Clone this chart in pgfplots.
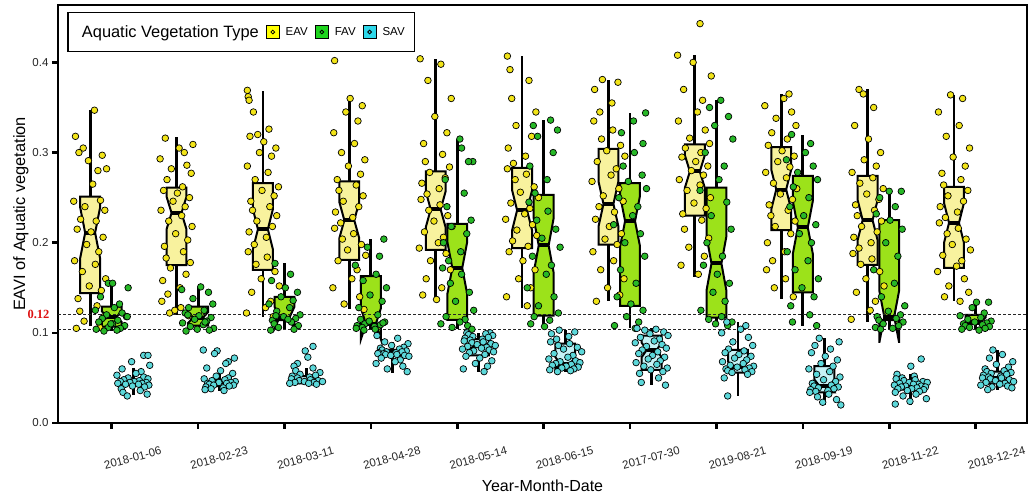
\documentclass[border=0pt]{standalone}
\usepackage{fontspec}
\setmainfont{Liberation Sans}
\newfontfamily\serifbf{Liberation Serif}
\usepackage{pgfplots}
\usepackage{pgfplotstable}
\pgfplotsset{compat=1.18}

\definecolor{eavbox}{HTML}{F8F29E}
\definecolor{favbox}{HTML}{9CE21A}
\definecolor{savbox}{HTML}{C6F2F6}
\definecolor{eavpt}{HTML}{F2E418}
\definecolor{favpt}{HTML}{27B827}
\definecolor{savpt}{HTML}{5CD8DA}
\definecolor{eavkey}{HTML}{FFFF00}
\definecolor{favkey}{HTML}{1ED41E}
\definecolor{savkey}{HTML}{2ED8EA}
\definecolor{redlab}{HTML}{DD1111}

% notched box: center, q1, median, q3, notch half-height, lower whisker, upper whisker, fill
\newcommand{\nbox}[8]{%
 \pgfmathsetmacro\xl{#1-0.115}\pgfmathsetmacro\xr{#1+0.115}%
 \pgfmathsetmacro\xml{#1-0.0575}\pgfmathsetmacro\xmr{#1+0.0575}%
 \pgfmathsetmacro\nlo{#3-#5}\pgfmathsetmacro\nhi{#3+#5}%
 \addplot[black, line width=2.8pt, forget plot] coordinates {(#1,#4) (#1,#7)};
 \addplot[black, line width=2.8pt, forget plot] coordinates {(#1,#2) (#1,#6)};
 \addplot[draw=black, fill=#8, line width=2pt, line join=miter, forget plot] coordinates {(\xl,#2) (\xl,\nlo) (\xml,#3) (\xl,\nhi) (\xl,#4) (\xr,#4) (\xr,\nhi) (\xmr,#3) (\xr,\nlo) (\xr,#2)} -- cycle;
 \addplot[black, line width=4pt, forget plot] coordinates {(\xml,#3) (\xmr,#3)};
}

\pgfplotstableread[row sep=\\]{
t d y\\
1 -0.17 0.318\\ 1 0.05 0.347\\ 1 -0.08 0.305\\ 1 0.14 0.297\\ 1 -0.02 0.291\\ 1 0.19 0.282\\ 1 -0.13 0.300\\ 1 0.09 0.280\\ 1 0.03 0.265\\ 1 -0.19 0.246\\ 1 0.12 0.247\\ 1 -0.06 0.240\\ 1 0.17 0.236\\ 1 -0.11 0.226\\ 1 0.07 0.224\\ 1 -0.15 0.215\\ 1 0.01 0.212\\ 1 0.15 0.206\\ 1 -0.04 0.198\\ 1 0.10 0.190\\ 1 -0.18 0.180\\ 1 0.06 0.176\\ 1 -0.09 0.168\\ 1 0.18 0.160\\ 1 -0.01 0.152\\ 1 0.13 0.147\\ 1 -0.14 0.138\\ 1 0.08 0.130\\ 1 -0.12 0.124\\ 1 0.16 0.118\\ 1 -0.07 0.113\\ 1 0.11 0.106\\ 1 -0.16 0.105\\
2 0.19 0.309\\ 2 -0.13 0.316\\ 2 0.09 0.300\\ 2 0.03 0.305\\ 2 -0.19 0.293\\ 2 0.12 0.286\\ 2 -0.06 0.282\\ 2 0.17 0.277\\ 2 -0.11 0.270\\ 2 0.07 0.262\\ 2 -0.15 0.258\\ 2 0.01 0.255\\ 2 0.15 0.250\\ 2 -0.04 0.246\\ 2 0.10 0.240\\ 2 -0.18 0.236\\ 2 0.06 0.230\\ 2 -0.09 0.224\\ 2 0.18 0.218\\ 2 -0.01 0.210\\ 2 0.13 0.203\\ 2 -0.14 0.196\\ 2 0.08 0.190\\ 2 -0.12 0.183\\ 2 0.16 0.178\\ 2 -0.07 0.172\\ 2 0.11 0.165\\ 2 -0.16 0.158\\ 2 0.04 0.150\\ 2 -0.10 0.143\\ 2 -0.17 0.135\\ 2 0.05 0.128\\ 2 -0.08 0.122\\ 2 0.14 0.119\\ 2 -0.02 0.125\\
3 -0.18 0.369\\ 3 -0.17 0.362\\ 3 -0.16 0.358\\ 3 -0.11 0.345\\ 3 0.07 0.326\\ 3 -0.15 0.318\\ 3 0.01 0.312\\ 3 0.15 0.305\\ 3 -0.04 0.300\\ 3 0.10 0.296\\ 3 -0.18 0.285\\ 3 0.06 0.278\\ 3 -0.09 0.270\\ 3 0.18 0.262\\ 3 -0.01 0.258\\ 3 0.13 0.252\\ 3 -0.14 0.246\\ 3 0.08 0.240\\ 3 -0.12 0.236\\ 3 0.16 0.230\\ 3 -0.07 0.224\\ 3 0.11 0.218\\ 3 -0.16 0.212\\ 3 0.04 0.206\\ 3 -0.10 0.198\\ 3 -0.17 0.190\\ 3 0.05 0.184\\ 3 -0.08 0.176\\ 3 0.14 0.168\\ 3 -0.02 0.160\\ 3 0.19 0.152\\ 3 -0.13 0.145\\ 3 0.09 0.135\\ 3 0.03 0.128\\ 3 -0.19 0.122\\ 3 0.12 0.118\\ 3 -0.06 0.320\\
4 -0.17 0.402\\ 4 0.01 0.360\\ 4 0.15 0.352\\ 4 -0.04 0.345\\ 4 0.10 0.335\\ 4 -0.18 0.322\\ 4 0.06 0.310\\ 4 -0.09 0.300\\ 4 0.18 0.292\\ 4 -0.01 0.285\\ 4 0.13 0.276\\ 4 -0.14 0.270\\ 4 0.08 0.264\\ 4 -0.12 0.258\\ 4 0.16 0.252\\ 4 -0.07 0.246\\ 4 0.11 0.240\\ 4 -0.16 0.234\\ 4 0.04 0.228\\ 4 -0.10 0.222\\ 4 -0.17 0.216\\ 4 0.05 0.210\\ 4 -0.08 0.204\\ 4 0.14 0.198\\ 4 -0.02 0.192\\ 4 0.19 0.186\\ 4 -0.13 0.180\\ 4 0.09 0.170\\ 4 0.03 0.160\\ 4 -0.19 0.150\\ 4 0.12 0.140\\ 4 -0.06 0.132\\ 4 0.17 0.126\\
5 -0.18 0.404\\ 5 0.06 0.398\\ 5 -0.09 0.380\\ 5 0.18 0.360\\ 5 -0.01 0.340\\ 5 0.13 0.322\\ 5 -0.14 0.310\\ 5 0.08 0.298\\ 5 -0.12 0.290\\ 5 0.16 0.284\\ 5 -0.07 0.278\\ 5 0.11 0.272\\ 5 -0.16 0.266\\ 5 0.04 0.260\\ 5 -0.10 0.254\\ 5 -0.17 0.248\\ 5 0.05 0.242\\ 5 -0.08 0.236\\ 5 0.14 0.230\\ 5 -0.02 0.224\\ 5 0.19 0.218\\ 5 -0.13 0.212\\ 5 0.09 0.206\\ 5 0.03 0.200\\ 5 -0.19 0.194\\ 5 0.12 0.188\\ 5 -0.06 0.180\\ 5 0.17 0.170\\ 5 -0.11 0.160\\ 5 0.07 0.150\\ 5 -0.15 0.142\\ 5 0.01 0.137\\
6 -0.17 0.407\\ 6 -0.14 0.392\\ 6 0.08 0.380\\ 6 -0.12 0.360\\ 6 0.16 0.345\\ 6 -0.07 0.330\\ 6 0.11 0.318\\ 6 -0.16 0.305\\ 6 0.04 0.296\\ 6 -0.10 0.288\\ 6 -0.17 0.282\\ 6 0.05 0.276\\ 6 -0.08 0.270\\ 6 0.14 0.262\\ 6 -0.02 0.256\\ 6 0.19 0.250\\ 6 -0.13 0.244\\ 6 0.09 0.238\\ 6 0.03 0.232\\ 6 -0.19 0.226\\ 6 0.12 0.220\\ 6 -0.06 0.214\\ 6 0.17 0.208\\ 6 -0.11 0.202\\ 6 0.07 0.196\\ 6 -0.15 0.190\\ 6 0.01 0.180\\ 6 0.15 0.170\\ 6 -0.04 0.160\\ 6 0.10 0.150\\ 6 -0.18 0.140\\ 6 0.06 0.130\\
7 -0.07 0.381\\ 7 0.11 0.378\\ 7 -0.16 0.370\\ 7 0.04 0.355\\ 7 -0.10 0.345\\ 7 -0.17 0.335\\ 7 0.05 0.325\\ 7 -0.08 0.315\\ 7 0.14 0.308\\ 7 -0.02 0.302\\ 7 0.19 0.296\\ 7 -0.13 0.290\\ 7 0.09 0.282\\ 7 0.03 0.275\\ 7 -0.19 0.268\\ 7 0.12 0.260\\ 7 -0.06 0.252\\ 7 0.17 0.246\\ 7 -0.11 0.240\\ 7 0.07 0.234\\ 7 -0.15 0.226\\ 7 0.01 0.218\\ 7 0.15 0.210\\ 7 -0.04 0.204\\ 7 0.10 0.198\\ 7 -0.18 0.190\\ 7 0.06 0.180\\ 7 -0.09 0.170\\ 7 0.18 0.160\\ 7 -0.01 0.150\\ 7 0.13 0.142\\ 7 -0.14 0.135\\
8 0.06 0.443\\ 8 -0.20 0.408\\ 8 -0.02 0.400\\ 8 0.19 0.385\\ 8 -0.13 0.370\\ 8 0.09 0.358\\ 8 0.03 0.345\\ 8 -0.19 0.335\\ 8 0.12 0.325\\ 8 -0.06 0.316\\ 8 0.17 0.310\\ 8 -0.11 0.305\\ 8 0.07 0.300\\ 8 -0.15 0.295\\ 8 0.01 0.290\\ 8 0.15 0.285\\ 8 -0.04 0.280\\ 8 0.10 0.275\\ 8 -0.18 0.270\\ 8 0.06 0.264\\ 8 -0.09 0.258\\ 8 0.18 0.250\\ 8 -0.01 0.244\\ 8 0.13 0.238\\ 8 -0.14 0.232\\ 8 0.08 0.225\\ 8 -0.12 0.215\\ 8 0.16 0.205\\ 8 -0.07 0.195\\ 8 0.11 0.185\\ 8 -0.16 0.175\\ 8 0.04 0.165\\
9 0.09 0.365\\ 9 0.03 0.360\\ 9 -0.19 0.352\\ 9 0.12 0.345\\ 9 -0.06 0.338\\ 9 0.17 0.330\\ 9 -0.11 0.322\\ 9 0.07 0.315\\ 9 -0.15 0.308\\ 9 0.01 0.302\\ 9 0.15 0.296\\ 9 -0.04 0.290\\ 9 0.10 0.284\\ 9 -0.18 0.278\\ 9 0.06 0.272\\ 9 -0.09 0.266\\ 9 0.18 0.260\\ 9 -0.01 0.254\\ 9 0.13 0.248\\ 9 -0.14 0.242\\ 9 0.08 0.236\\ 9 -0.12 0.230\\ 9 0.16 0.224\\ 9 -0.07 0.218\\ 9 0.11 0.210\\ 9 -0.16 0.200\\ 9 0.04 0.190\\ 9 -0.10 0.180\\ 9 -0.17 0.170\\ 9 0.05 0.160\\ 9 -0.08 0.150\\ 9 0.14 0.140\\
10 -0.10 0.370\\ 10 -0.05 0.365\\ 10 0.07 0.350\\ 10 -0.15 0.330\\ 10 0.01 0.315\\ 10 0.15 0.300\\ 10 -0.04 0.292\\ 10 0.10 0.285\\ 10 -0.18 0.278\\ 10 0.06 0.272\\ 10 -0.09 0.266\\ 10 0.18 0.260\\ 10 -0.01 0.254\\ 10 0.13 0.248\\ 10 -0.14 0.242\\ 10 0.08 0.236\\ 10 -0.12 0.230\\ 10 0.16 0.224\\ 10 -0.07 0.218\\ 10 0.11 0.212\\ 10 -0.16 0.206\\ 10 0.04 0.200\\ 10 -0.10 0.194\\ 10 -0.17 0.188\\ 10 0.05 0.182\\ 10 -0.08 0.176\\ 10 0.14 0.168\\ 10 -0.02 0.160\\ 10 0.19 0.152\\ 10 -0.13 0.145\\ 10 0.09 0.135\\ 10 0.03 0.125\\ 10 -0.19 0.115\\
11 -0.04 0.364\\ 11 0.10 0.360\\ 11 -0.18 0.345\\ 11 0.06 0.330\\ 11 -0.09 0.318\\ 11 0.18 0.305\\ 11 -0.01 0.295\\ 11 0.13 0.285\\ 11 -0.14 0.277\\ 11 0.08 0.270\\ 11 -0.12 0.264\\ 11 0.16 0.258\\ 11 -0.07 0.252\\ 11 0.11 0.246\\ 11 -0.16 0.240\\ 11 0.04 0.234\\ 11 -0.10 0.228\\ 11 -0.17 0.222\\ 11 0.05 0.216\\ 11 -0.08 0.210\\ 11 0.14 0.204\\ 11 -0.02 0.198\\ 11 0.19 0.192\\ 11 -0.13 0.186\\ 11 0.09 0.180\\ 11 0.03 0.174\\ 11 -0.19 0.168\\ 11 0.12 0.160\\ 11 -0.06 0.152\\ 11 0.17 0.145\\ 11 -0.11 0.140\\ 11 0.07 0.135\\
}\eavtab

\pgfplotstableread[row sep=\\]{
t d y\\
1 -0.04 0.155\\ 1 0.01 0.155\\ 1 0.19 0.150\\ 1 -0.13 0.140\\ 1 0.09 0.132\\ 1 0.03 0.128\\ 1 -0.19 0.125\\ 1 0.12 0.122\\ 1 -0.06 0.120\\ 1 0.17 0.118\\ 1 -0.11 0.116\\ 1 0.07 0.114\\ 1 -0.15 0.112\\ 1 0.01 0.110\\ 1 0.15 0.108\\ 1 -0.04 0.106\\ 1 0.10 0.105\\ 1 -0.18 0.104\\ 1 0.06 0.103\\ 1 -0.09 0.102\\ 1 0.18 0.118\\ 1 -0.01 0.110\\
2 0.03 0.151\\ 2 -0.19 0.148\\ 2 0.12 0.145\\ 2 -0.06 0.138\\ 2 0.17 0.132\\ 2 -0.11 0.128\\ 2 0.07 0.125\\ 2 -0.15 0.122\\ 2 0.01 0.119\\ 2 0.15 0.117\\ 2 -0.04 0.115\\ 2 0.10 0.113\\ 2 -0.18 0.111\\ 2 0.06 0.109\\ 2 -0.09 0.107\\ 2 0.18 0.105\\ 2 -0.01 0.104\\ 2 0.13 0.103\\ 2 -0.14 0.102\\ 2 0.08 0.112\\ 2 -0.12 0.120\\
3 -0.11 0.177\\ 3 0.07 0.165\\ 3 -0.15 0.158\\ 3 0.01 0.150\\ 3 0.15 0.145\\ 3 -0.04 0.140\\ 3 0.10 0.136\\ 3 -0.18 0.132\\ 3 0.06 0.128\\ 3 -0.09 0.124\\ 3 0.18 0.120\\ 3 -0.01 0.118\\ 3 0.13 0.116\\ 3 -0.14 0.114\\ 3 0.08 0.112\\ 3 -0.12 0.110\\ 3 0.16 0.108\\ 3 -0.07 0.106\\ 3 0.11 0.104\\ 3 -0.16 0.103\\ 3 0.04 0.115\\ 3 -0.10 0.119\\
4 0.15 0.204\\ 4 -0.04 0.195\\ 4 0.10 0.185\\ 4 -0.18 0.175\\ 4 0.06 0.165\\ 4 -0.09 0.158\\ 4 0.18 0.150\\ 4 -0.01 0.142\\ 4 0.13 0.135\\ 4 -0.14 0.128\\ 4 0.08 0.120\\ 4 -0.12 0.115\\ 4 0.16 0.112\\ 4 -0.07 0.110\\ 4 0.11 0.109\\ 4 -0.16 0.108\\ 4 0.04 0.107\\ 4 -0.10 0.106\\ 4 -0.17 0.105\\ 4 0.05 0.104\\ 4 -0.08 0.103\\ 4 0.14 0.111\\ 4 -0.02 0.113\\
5 0.03 0.315\\ 5 0.05 0.305\\ 5 0.18 0.290\\ 5 0.13 0.290\\ 5 -0.14 0.270\\ 5 0.08 0.255\\ 5 -0.12 0.240\\ 5 0.16 0.225\\ 5 -0.07 0.218\\ 5 0.11 0.210\\ 5 -0.16 0.200\\ 5 0.04 0.190\\ 5 -0.10 0.180\\ 5 -0.17 0.172\\ 5 0.05 0.165\\ 5 -0.08 0.155\\ 5 0.14 0.145\\ 5 -0.02 0.135\\ 5 0.19 0.125\\ 5 -0.13 0.118\\ 5 0.09 0.115\\ 5 0.03 0.112\\ 5 -0.19 0.110\\ 5 0.12 0.108\\ 5 -0.06 0.106\\ 5 0.17 0.104\\
6 0.08 0.336\\ 6 -0.12 0.330\\ 6 0.16 0.325\\ 6 -0.07 0.318\\ 6 0.11 0.300\\ 6 -0.16 0.285\\ 6 0.04 0.270\\ 6 -0.10 0.255\\ 6 -0.17 0.245\\ 6 0.05 0.235\\ 6 -0.08 0.225\\ 6 0.14 0.215\\ 6 -0.02 0.205\\ 6 0.19 0.195\\ 6 -0.13 0.185\\ 6 0.09 0.175\\ 6 0.03 0.165\\ 6 -0.19 0.150\\ 6 0.12 0.140\\ 6 -0.06 0.130\\ 6 0.17 0.122\\ 6 -0.11 0.118\\ 6 0.07 0.114\\ 6 -0.15 0.110\\ 6 0.01 0.107\\
7 0.18 0.344\\ 7 0.04 0.335\\ 7 -0.10 0.322\\ 7 0.15 0.310\\ 7 0.05 0.300\\ 7 -0.08 0.285\\ 7 0.14 0.275\\ 7 -0.02 0.268\\ 7 0.19 0.260\\ 7 -0.13 0.250\\ 7 0.09 0.240\\ 7 0.03 0.230\\ 7 -0.19 0.220\\ 7 0.12 0.210\\ 7 -0.06 0.200\\ 7 0.17 0.185\\ 7 -0.11 0.170\\ 7 0.07 0.155\\ 7 -0.15 0.140\\ 7 0.01 0.132\\ 7 0.15 0.125\\ 7 -0.04 0.118\\ 7 0.10 0.112\\ 7 -0.18 0.108\\ 7 0.06 0.105\\
8 0.05 0.358\\ 8 -0.08 0.350\\ 8 0.14 0.340\\ 8 -0.02 0.330\\ 8 0.19 0.315\\ 8 -0.13 0.300\\ 8 0.09 0.285\\ 8 0.03 0.270\\ 8 -0.19 0.258\\ 8 0.12 0.245\\ 8 -0.06 0.230\\ 8 0.17 0.215\\ 8 -0.11 0.200\\ 8 0.07 0.185\\ 8 -0.15 0.175\\ 8 0.01 0.165\\ 8 0.15 0.155\\ 8 -0.04 0.145\\ 8 0.10 0.135\\ 8 -0.18 0.125\\ 8 0.06 0.118\\ 8 -0.09 0.115\\ 8 0.18 0.112\\ 8 -0.01 0.110\\ 8 0.13 0.108\\
9 -0.13 0.320\\ 9 0.09 0.310\\ 9 0.03 0.300\\ 9 -0.19 0.292\\ 9 0.12 0.285\\ 9 -0.06 0.278\\ 9 0.17 0.270\\ 9 -0.11 0.262\\ 9 0.07 0.250\\ 9 -0.15 0.240\\ 9 0.01 0.230\\ 9 0.15 0.220\\ 9 -0.04 0.210\\ 9 0.10 0.200\\ 9 -0.18 0.190\\ 9 0.06 0.180\\ 9 -0.09 0.170\\ 9 0.18 0.160\\ 9 -0.01 0.150\\ 9 0.13 0.140\\ 9 -0.14 0.130\\ 9 0.08 0.120\\ 9 -0.12 0.112\\ 9 0.16 0.108\\
10 0.00 0.257\\ 10 0.14 0.257\\ 10 -0.11 0.250\\ 10 0.07 0.240\\ 10 -0.15 0.232\\ 10 0.01 0.225\\ 10 0.15 0.215\\ 10 -0.04 0.200\\ 10 0.10 0.185\\ 10 -0.18 0.170\\ 10 0.06 0.155\\ 10 -0.09 0.140\\ 10 0.18 0.130\\ 10 -0.01 0.124\\ 10 0.13 0.120\\ 10 -0.14 0.118\\ 10 0.08 0.116\\ 10 -0.12 0.114\\ 10 0.16 0.112\\ 10 -0.07 0.110\\ 10 0.11 0.108\\ 10 -0.16 0.106\\ 10 0.04 0.105\\ 10 -0.10 0.104\\
11 0.01 0.134\\ 11 0.15 0.134\\ 11 -0.04 0.128\\ 11 0.10 0.122\\ 11 -0.18 0.119\\ 11 0.06 0.117\\ 11 -0.09 0.115\\ 11 0.18 0.113\\ 11 -0.01 0.112\\ 11 0.13 0.111\\ 11 -0.14 0.110\\ 11 0.08 0.109\\ 11 -0.12 0.108\\ 11 0.16 0.107\\ 11 -0.07 0.106\\ 11 0.11 0.105\\ 11 -0.16 0.104\\ 11 0.04 0.103\\
}\favtab

\pgfplotstableread[row sep=\\]{
t d y\\
1 0.12 0.075\\ 1 0.17 0.075\\ 1 -0.02 0.068\\ 1 0.19 0.064\\ 1 -0.13 0.060\\ 1 0.09 0.057\\ 1 0.03 0.055\\ 1 -0.19 0.053\\ 1 0.12 0.051\\ 1 -0.06 0.050\\ 1 0.17 0.049\\ 1 -0.11 0.048\\ 1 0.07 0.047\\ 1 -0.15 0.046\\ 1 0.01 0.046\\ 1 0.15 0.045\\ 1 -0.04 0.045\\ 1 0.10 0.044\\ 1 -0.18 0.044\\ 1 0.06 0.043\\ 1 -0.09 0.043\\ 1 0.18 0.042\\ 1 -0.01 0.041\\ 1 0.13 0.040\\ 1 -0.14 0.038\\ 1 0.08 0.036\\ 1 -0.12 0.034\\ 1 0.16 0.032\\ 1 -0.07 0.030\\
2 -0.19 0.081\\ 2 -0.03 0.080\\ 2 -0.06 0.077\\ 2 0.17 0.072\\ 2 0.10 0.068\\ 2 0.07 0.066\\ 2 -0.15 0.061\\ 2 0.01 0.058\\ 2 0.15 0.055\\ 2 -0.04 0.052\\ 2 0.10 0.050\\ 2 -0.18 0.049\\ 2 0.06 0.048\\ 2 -0.09 0.047\\ 2 0.18 0.046\\ 2 -0.01 0.045\\ 2 0.13 0.045\\ 2 -0.14 0.044\\ 2 0.08 0.044\\ 2 -0.12 0.043\\ 2 0.16 0.042\\ 2 -0.07 0.042\\ 2 0.11 0.041\\ 2 -0.16 0.040\\ 2 0.04 0.039\\ 2 -0.10 0.038\\ 2 -0.17 0.037\\ 2 0.05 0.036\\
3 0.08 0.085\\ 3 -0.01 0.080\\ 3 0.02 0.073\\ 3 -0.10 0.066\\ 3 -0.14 0.063\\ 3 0.08 0.061\\ 3 -0.12 0.058\\ 3 0.16 0.056\\ 3 -0.07 0.054\\ 3 0.11 0.053\\ 3 -0.16 0.052\\ 3 0.04 0.051\\ 3 -0.10 0.050\\ 3 -0.17 0.049\\ 3 0.05 0.048\\ 3 -0.08 0.047\\ 3 0.14 0.047\\ 3 -0.02 0.046\\ 3 0.19 0.046\\ 3 -0.13 0.045\\ 3 0.09 0.045\\ 3 0.03 0.044\\ 3 -0.19 0.044\\ 3 0.12 0.043\\
4 -0.18 0.097\\ 4 0.06 0.094\\ 4 -0.09 0.090\\ 4 0.18 0.088\\ 4 -0.01 0.086\\ 4 0.13 0.084\\ 4 -0.14 0.083\\ 4 0.08 0.082\\ 4 -0.12 0.081\\ 4 0.16 0.080\\ 4 -0.07 0.079\\ 4 0.11 0.079\\ 4 -0.16 0.078\\ 4 0.04 0.078\\ 4 -0.10 0.077\\ 4 -0.17 0.077\\ 4 0.05 0.076\\ 4 -0.08 0.076\\ 4 0.14 0.075\\ 4 -0.02 0.075\\ 4 0.19 0.074\\ 4 -0.13 0.072\\ 4 0.09 0.070\\ 4 0.03 0.068\\ 4 -0.19 0.066\\ 4 0.12 0.063\\ 4 -0.06 0.060\\ 4 0.17 0.057\\
5 0.13 0.100\\ 5 -0.14 0.100\\ 5 0.08 0.099\\ 5 -0.12 0.098\\ 5 0.16 0.097\\ 5 -0.07 0.096\\ 5 0.11 0.095\\ 5 -0.16 0.094\\ 5 0.04 0.093\\ 5 -0.10 0.092\\ 5 -0.17 0.091\\ 5 0.05 0.090\\ 5 -0.08 0.089\\ 5 0.14 0.088\\ 5 -0.02 0.087\\ 5 0.19 0.086\\ 5 -0.13 0.085\\ 5 0.09 0.084\\ 5 0.03 0.083\\ 5 -0.19 0.082\\ 5 0.12 0.081\\ 5 -0.06 0.080\\ 5 0.17 0.079\\ 5 -0.11 0.078\\ 5 0.07 0.076\\ 5 -0.15 0.074\\ 5 0.01 0.072\\ 5 0.15 0.069\\ 5 -0.04 0.066\\ 5 0.10 0.063\\ 5 -0.18 0.060\\ 5 0.06 0.057\\
6 -0.07 0.103\\ 6 0.11 0.101\\ 6 -0.16 0.099\\ 6 0.04 0.096\\ 6 -0.10 0.093\\ 6 -0.17 0.090\\ 6 0.05 0.088\\ 6 -0.08 0.086\\ 6 0.14 0.084\\ 6 -0.02 0.082\\ 6 0.19 0.079\\ 6 -0.13 0.077\\ 6 0.09 0.075\\ 6 0.03 0.073\\ 6 -0.19 0.071\\ 6 0.12 0.069\\ 6 -0.06 0.068\\ 6 0.17 0.067\\ 6 -0.11 0.066\\ 6 0.07 0.065\\ 6 -0.15 0.064\\ 6 0.01 0.063\\ 6 0.15 0.062\\ 6 -0.04 0.061\\ 6 0.10 0.060\\ 6 -0.18 0.059\\ 6 0.06 0.058\\ 6 -0.09 0.057\\
7 -0.17 0.105\\ 7 0.05 0.104\\ 7 -0.08 0.103\\ 7 0.14 0.101\\ 7 -0.02 0.099\\ 7 0.19 0.097\\ 7 -0.13 0.095\\ 7 0.09 0.093\\ 7 0.03 0.091\\ 7 -0.19 0.089\\ 7 0.12 0.087\\ 7 -0.06 0.085\\ 7 0.17 0.083\\ 7 -0.11 0.081\\ 7 0.07 0.079\\ 7 -0.15 0.077\\ 7 0.01 0.075\\ 7 0.15 0.073\\ 7 -0.04 0.071\\ 7 0.10 0.069\\ 7 -0.18 0.067\\ 7 0.06 0.065\\ 7 -0.09 0.063\\ 7 0.18 0.061\\ 7 -0.01 0.059\\ 7 0.13 0.057\\ 7 -0.14 0.055\\ 7 0.08 0.050\\ 7 -0.12 0.045\\ 7 0.16 0.042\\
8 -0.13 0.112\\ 8 0.09 0.108\\ 8 0.03 0.104\\ 8 -0.19 0.100\\ 8 0.12 0.095\\ 8 -0.06 0.090\\ 8 0.17 0.086\\ 8 -0.11 0.082\\ 8 0.07 0.080\\ 8 -0.15 0.078\\ 8 0.01 0.076\\ 8 0.15 0.074\\ 8 -0.04 0.072\\ 8 0.10 0.070\\ 8 -0.18 0.068\\ 8 0.06 0.066\\ 8 -0.09 0.064\\ 8 0.18 0.063\\ 8 -0.01 0.062\\ 8 0.13 0.061\\ 8 -0.14 0.060\\ 8 0.08 0.059\\ 8 -0.12 0.058\\ 8 0.16 0.057\\ 8 -0.07 0.056\\ 8 0.11 0.054\\ 8 -0.16 0.050\\ 8 -0.12 0.030\\
9 -0.06 0.094\\ 9 0.17 0.090\\ 9 -0.11 0.086\\ 9 0.07 0.082\\ 9 -0.15 0.078\\ 9 0.01 0.074\\ 9 0.15 0.070\\ 9 -0.04 0.066\\ 9 0.10 0.063\\ 9 -0.18 0.060\\ 9 0.06 0.057\\ 9 -0.09 0.054\\ 9 0.18 0.051\\ 9 -0.01 0.048\\ 9 0.13 0.046\\ 9 -0.14 0.044\\ 9 0.08 0.042\\ 9 -0.12 0.041\\ 9 0.16 0.040\\ 9 -0.07 0.039\\ 9 0.11 0.038\\ 9 -0.16 0.037\\ 9 0.04 0.036\\ 9 -0.10 0.035\\ 9 -0.17 0.034\\ 9 0.05 0.032\\ 9 -0.08 0.029\\ 9 0.14 0.026\\ 9 -0.02 0.023\\ 9 0.19 0.020\\
10 0.12 0.071\\ 10 0.00 0.063\\ 10 -0.16 0.054\\ 10 0.04 0.052\\ 10 -0.10 0.050\\ 10 -0.17 0.049\\ 10 0.05 0.048\\ 10 -0.08 0.047\\ 10 0.14 0.046\\ 10 -0.02 0.045\\ 10 0.19 0.045\\ 10 -0.13 0.044\\ 10 0.09 0.043\\ 10 0.03 0.043\\ 10 -0.19 0.042\\ 10 0.12 0.041\\ 10 -0.06 0.041\\ 10 0.17 0.040\\ 10 -0.11 0.040\\ 10 0.07 0.039\\ 10 -0.15 0.038\\ 10 0.01 0.038\\ 10 0.15 0.037\\ 10 -0.04 0.036\\ 10 0.10 0.035\\ 10 -0.18 0.034\\ 10 0.06 0.032\\ 10 -0.09 0.030\\ 10 0.18 0.027\\ 10 -0.01 0.024\\ 10 -0.18 0.021\\
11 -0.05 0.081\\ 11 0.06 0.076\\ 11 -0.09 0.072\\ 11 0.18 0.068\\ 11 -0.01 0.065\\ 11 0.13 0.062\\ 11 -0.14 0.060\\ 11 0.08 0.058\\ 11 -0.12 0.057\\ 11 0.16 0.056\\ 11 -0.07 0.055\\ 11 0.11 0.054\\ 11 -0.16 0.053\\ 11 0.04 0.052\\ 11 -0.10 0.051\\ 11 -0.17 0.050\\ 11 0.05 0.050\\ 11 -0.08 0.049\\ 11 0.14 0.048\\ 11 -0.02 0.047\\ 11 0.19 0.046\\ 11 -0.13 0.045\\ 11 0.09 0.044\\ 11 0.03 0.043\\ 11 -0.19 0.042\\ 11 0.12 0.041\\ 11 -0.06 0.040\\ 11 0.17 0.039\\ 11 -0.11 0.037\\
}\savtab

\begin{document}
\begin{tikzpicture}
\useasboundingbox (0,0) rectangle (1030pt,500pt);
\begin{axis}[
  at={(58pt,77pt)}, anchor=south west,
  scale only axis, width=969pt, height=418pt,
  xmin=0.378, xmax=11.595, ymin=0, ymax=0.4637,
  clip=false,
  xtick={1,2,3,4,5,6,7,8,9,10,11},
  xticklabels={2018-01-06,2018-02-23,2018-03-11,2018-04-28,2018-05-14,2018-06-15,2017-07-30,2019-08-21,2018-09-19,2018-11-22,2018-12-24},
  ytick={0,0.1,0.2,0.3,0.4},
  yticklabel style={/pgf/number format/fixed, /pgf/number format/fixed zerofill, /pgf/number format/precision=1},
  /pgf/number format/assume math mode=true,
  tick label style={font=\fontsize{11.5}{13}\selectfont, text=black!85},
  xticklabel style={xshift=21pt, yshift=-29pt, anchor=center, rotate=15},
  tick pos=left, tick align=outside, major tick length=6pt,
  every tick/.style={black, line width=2.6pt},
  axis line style={line width=2.4pt},
  xlabel={Year-Month-Date},
  ylabel={EAVI of Aquatic vegetation},
  every axis x label/.style={at={(axis description cs:0.5,-0.163)}, anchor=base, font=\fontsize{16}{18}\selectfont},
  every axis y label/.style={at={(axis description cs:-0.034,0.5)}, anchor=base, rotate=90, font=\fontsize{16.4}{18}\selectfont},
  legend style={at={(0.0096,0.984)}, anchor=north west, draw=black, line width=1.3pt, fill=white,
    legend columns=4, font=\fontsize{11.5}{13}\selectfont, inner xsep=8pt, inner ysep=11pt,
    /tikz/every odd column/.append style={column sep=4pt},
    /tikz/every even column/.append style={column sep=5pt}},
]
\addlegendimage{legend image code/.code={}}
\addlegendentry{\fontsize{16.4}{18}\selectfont Aquatic Vegetation Type}
\addlegendimage{legend image code/.code={\draw[fill=eavkey,draw=black,line width=0.9pt] (0pt,-6.5pt) rectangle (13pt,6.5pt); \draw[fill=eavkey,draw=black,line width=0.8pt] (6.5pt,0pt) circle (1.9pt);}}
\addlegendentry{EAV}
\addlegendimage{legend image code/.code={\draw[fill=favkey,draw=black,line width=0.9pt] (0pt,-6.5pt) rectangle (13pt,6.5pt); \draw[fill=favkey,draw=black,line width=0.8pt] (6.5pt,0pt) circle (1.9pt);}}
\addlegendentry{FAV}
\addlegendimage{legend image code/.code={\draw[fill=savkey,draw=black,line width=0.9pt] (0pt,-6.5pt) rectangle (13pt,6.5pt); \draw[fill=savkey,draw=black,line width=0.8pt] (6.5pt,0pt) circle (1.9pt);}}
\addlegendentry{SAV}

% EAV boxes
\nbox{0.75}{0.144}{0.211}{0.251}{0.028}{0.108}{0.347}{eavbox}
\nbox{1.75}{0.175}{0.233}{0.261}{0.018}{0.120}{0.317}{eavbox}
\nbox{2.75}{0.170}{0.215}{0.266}{0.022}{0.118}{0.368}{eavbox}
\nbox{3.75}{0.181}{0.225}{0.268}{0.020}{0.126}{0.360}{eavbox}
\nbox{4.75}{0.192}{0.237}{0.279}{0.020}{0.137}{0.404}{eavbox}
\nbox{5.75}{0.194}{0.236}{0.283}{0.022}{0.128}{0.407}{eavbox}
\nbox{6.75}{0.198}{0.243}{0.304}{0.025}{0.135}{0.381}{eavbox}
\nbox{7.75}{0.230}{0.279}{0.309}{0.018}{0.162}{0.408}{eavbox}
\nbox{8.75}{0.214}{0.259}{0.306}{0.022}{0.137}{0.365}{eavbox}
\nbox{9.75}{0.1755}{0.225}{0.274}{0.022}{0.1115}{0.370}{eavbox}
\nbox{10.75}{0.172}{0.222}{0.262}{0.022}{0.135}{0.364}{eavbox}
% FAV boxes
\nbox{1}{0.107}{0.118}{0.129}{0.006}{0.102}{0.155}{favbox}
\nbox{2}{0.108}{0.117}{0.129}{0.006}{0.102}{0.151}{favbox}
\nbox{3}{0.114}{0.117}{0.140}{0.012}{0.103}{0.177}{favbox}
\nbox{4}{0.110}{0.110}{0.163}{0.017}{0.103}{0.204}{favbox}
\nbox{5}{0.1145}{0.172}{0.221}{0.029}{0.104}{0.315}{favbox}
\nbox{6}{0.119}{0.197}{0.253}{0.030}{0.107}{0.336}{favbox}
\nbox{7}{0.130}{0.224}{0.266}{0.028}{0.105}{0.344}{favbox}
\nbox{8}{0.117}{0.177}{0.261}{0.030}{0.108}{0.358}{favbox}
\nbox{9}{0.145}{0.217}{0.274}{0.029}{0.108}{0.320}{favbox}
\nbox{10}{0.114}{0.118}{0.225}{0.029}{0.104}{0.257}{favbox}
\nbox{11}{0.110}{0.112}{0.120}{0.005}{0.103}{0.134}{favbox}
% SAV boxes
\nbox{1.25}{0.043}{0.045}{0.048}{0.002}{0.031}{0.061}{savbox}
\nbox{2.25}{0.041}{0.045}{0.048}{0.002}{0.035}{0.058}{savbox}
\nbox{3.25}{0.044}{0.047}{0.052}{0.002}{0.043}{0.061}{savbox}
\nbox{4.25}{0.075}{0.078}{0.081}{0.002}{0.056}{0.090}{savbox}
\nbox{5.25}{0.075}{0.085}{0.093}{0.004}{0.057}{0.100}{savbox}
\nbox{6.25}{0.061}{0.066}{0.088}{0.007}{0.057}{0.103}{savbox}
\nbox{7.25}{0.059}{0.081}{0.097}{0.008}{0.042}{0.105}{savbox}
\nbox{8.25}{0.056}{0.062}{0.081}{0.006}{0.030}{0.112}{savbox}
\nbox{9.25}{0.034}{0.041}{0.063}{0.007}{0.020}{0.094}{savbox}
\nbox{10.25}{0.037}{0.041}{0.046}{0.002}{0.020}{0.054}{savbox}
\nbox{11.25}{0.044}{0.050}{0.057}{0.003}{0.037}{0.081}{savbox}

% threshold lines
\addplot[black!85, line width=0.9pt, dash pattern=on 3pt off 2pt, forget plot] coordinates {(0.378,0.12) (11.595,0.12)};
\addplot[black!85, line width=0.9pt, dash pattern=on 3pt off 2pt, forget plot] coordinates {(0.378,0.1035) (11.595,0.1035)};

% jittered points
\addplot[only marks, mark=*, mark size=3.3pt, mark options={fill=eavpt, draw=black, line width=0.7pt}, forget plot]
  table[x expr=\thisrow{t}-0.25+\thisrow{d}, y=y]{\eavtab};
\addplot[only marks, mark=*, mark size=3.3pt, mark options={fill=favpt, draw=black, line width=0.7pt}, forget plot]
  table[x expr=\thisrow{t}+\thisrow{d}, y=y]{\favtab};
\addplot[only marks, mark=*, mark size=3.3pt, mark options={fill=savpt, draw=black, line width=0.7pt}, forget plot]
  table[x expr=\thisrow{t}+0.25+\thisrow{d}, y=y]{\savtab};

\node[anchor=east, text=redlab, font=\serifbf\bfseries\fontsize{12.5}{14}\selectfont, xshift=-5pt] at (axis cs:0.378,0.12) {0.12};
\end{axis}
\end{tikzpicture}
\end{document}
